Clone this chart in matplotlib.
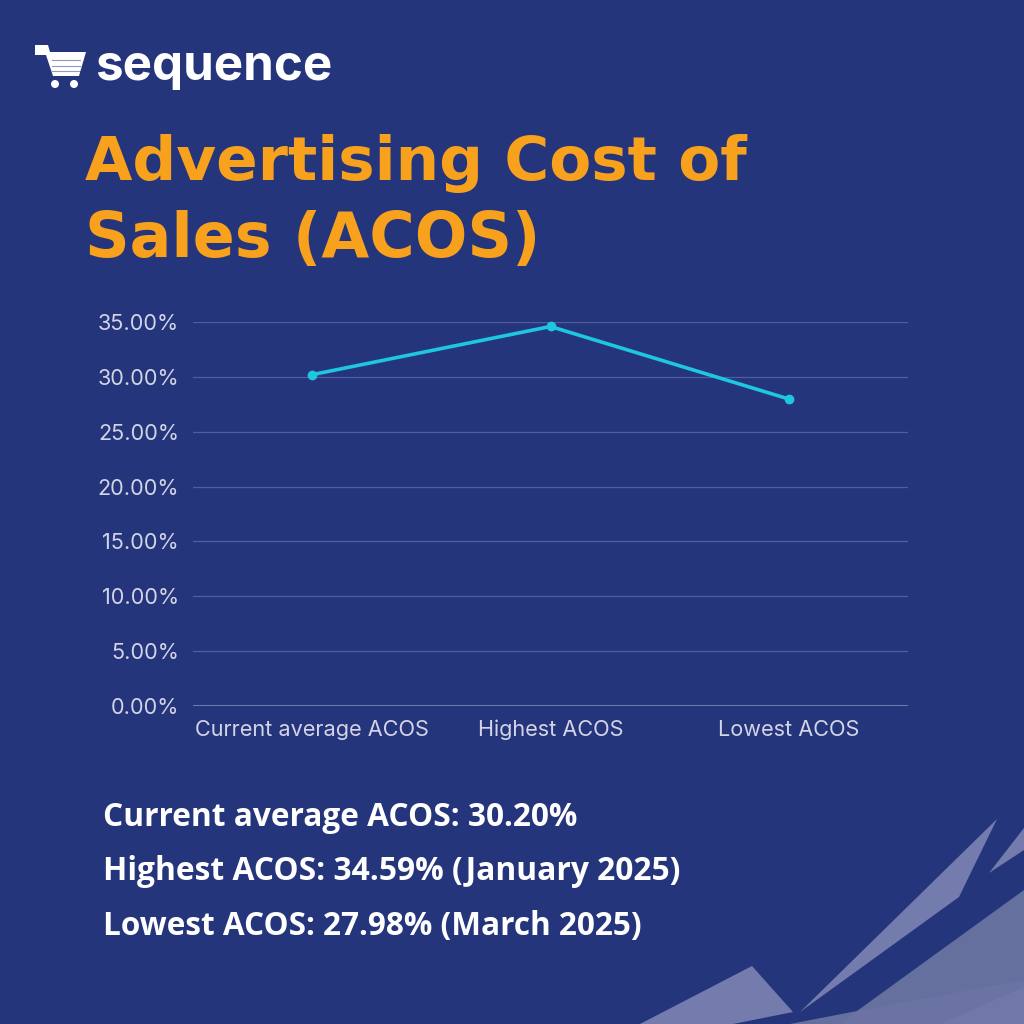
import matplotlib
matplotlib.use("Agg")
import matplotlib.pyplot as plt
from matplotlib.patches import Polygon, Circle

BG = '#24357c'
ORANGE = '#f7a11d'
CYAN = '#1ec6df'
TICK = '#d3d4e6'

# data
categories = ['Current average ACOS', 'Highest ACOS', 'Lowest ACOS']
acos = [30.20, 34.59, 27.98]
yticks = [0, 5, 10, 15, 20, 25, 30, 35]
summary = ['Current average ACOS: 30.20%',
           'Highest ACOS: 34.59% (January 2025)',
           'Lowest ACOS: 27.98% (March 2025)']

fig = plt.figure(figsize=(10.24, 10.24), dpi=100, facecolor=BG)

# background layer in pixel coords
bg = fig.add_axes([0, 0, 1, 1])
bg.set_xlim(0, 1024)
bg.set_ylim(1024, 0)
bg.axis('off')
bg.set_facecolor(BG)

# decorative shapes bottom right
bg.add_patch(Polygon([(790, 1024), (857, 1011), (1024, 890), (1024, 1024)], closed=True, color='#66709f', lw=0))
bg.add_patch(Polygon([(857, 1011), (1024, 980), (1024, 1024), (840, 1024)], closed=True, color='#6a73a3', lw=0))
bg.add_patch(Polygon([(940, 1024), (1024, 987), (1024, 1024)], closed=True, color='#7078aa', lw=0))
bg.add_patch(Polygon([(640, 1024), (752, 966), (793, 1012), (733, 1024)], closed=True, color='#747cad', lw=0))
bg.add_patch(Polygon([(800, 1012), (997, 819), (959, 897)], closed=True, color='#747cad', lw=0))
bg.add_patch(Polygon([(989, 873), (1024, 828), (1024, 850)], closed=True, color='#747cad', lw=0))

# cart logo
bg.add_patch(Polygon([(35, 45), (48, 45), (50, 52), (86, 52), (79, 76), (53, 76), (46, 55), (35, 55)],
                     closed=True, color='white', lw=0))
for yy in (60, 66, 71):
    bg.plot([52, 80], [yy, yy], color=BG, lw=0.8, alpha=0.5)
bg.add_patch(Circle((55, 84), 4, color='white', lw=0))
bg.add_patch(Circle((74, 84), 4, color='white', lw=0))

renderer = fig.canvas.get_renderer()


def fit_text(x, y, s, width_px, size=20, **kw):
    t = fig.text(x / 1024, 1 - y / 1024, s, va='baseline', ha='left', fontsize=size, **kw)
    w = t.get_window_extent(renderer=renderer).width
    t.set_fontsize(size * width_px / w)
    return t


fit_text(95, 80, 'sequence', 237, color='white', fontfamily='Inter', fontweight='bold')

fit_text(85, 180, 'Advertising Cost of', 663, color=ORANGE, fontfamily='DejaVu Sans', fontweight='bold')
fit_text(85, 257, 'Sales (ACOS)', 455, color=ORANGE, fontfamily='DejaVu Sans', fontweight='bold')

widths = [475, 577, 540]
bases = [826, 880, 935]
for s, w, b in zip(summary, widths, bases):
    fit_text(103, b, s, w, color='white', fontfamily='Open Sans', fontweight='bold')

# chart
ax = fig.add_axes([193 / 1024, 1 - 706 / 1024, 715 / 1024, 384 / 1024])
ax.set_facecolor('none')
ax.plot(range(len(categories)), acos, color=CYAN, lw=2.6, marker='o', ms=6, clip_on=False, zorder=3)
ax.set_xlim(-0.5, len(categories) - 0.5)
ax.set_ylim(0, 35)
ax.set_yticks(yticks)
ax.set_yticklabels(['{:.2f}%'.format(v) for v in yticks])
ax.set_xticks(range(len(categories)))
ax.set_xticklabels(categories)
for sp in ax.spines.values():
    sp.set_visible(False)
ax.grid(axis='y', color='#4f5d9c', lw=0.9)
ax.axhline(0, color='#7e87b9', lw=1.2, zorder=2)
ax.tick_params(length=0, labelsize=15.6, labelcolor=TICK)
ax.tick_params(axis='y', pad=10)
ax.tick_params(axis='x', pad=10)
for lab in ax.get_xticklabels() + ax.get_yticklabels():
    lab.set_fontfamily('Inter')

fig.savefig('out.png', dpi=100, facecolor=BG)
